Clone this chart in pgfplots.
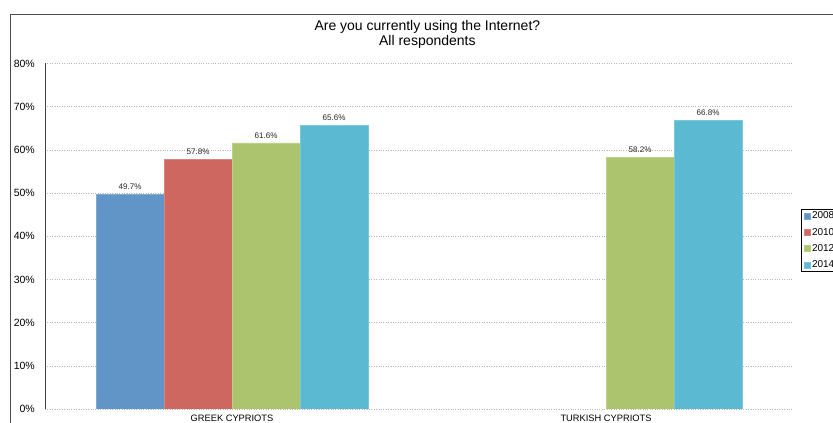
\documentclass[border=0pt]{standalone}
\usepackage{fontspec}
\setmainfont{Liberation Sans}
\usepackage{pgfplots}
\pgfplotsset{compat=1.18}
\definecolor{c08}{HTML}{6195C8}
\definecolor{c10}{HTML}{CD6760}
\definecolor{c12}{HTML}{ABC46D}
\definecolor{c14}{HTML}{5BB9D2}
\begin{document}
\begin{tikzpicture}[x=1pt,y=1pt]
\useasboundingbox (0,0) rectangle (833,423);
\clip (0,0) rectangle (833,423);
\draw[draw=gray!60!black, line width=0.9pt] (10,-20) rectangle (900,409);
\begin{axis}[
  at={(45pt,14pt)}, anchor=south west,
  scale only axis, width=748pt, height=345.5pt,
  ybar=0pt, bar width=68pt,
  xmin=-0.5, xmax=1.5, ymin=0, ymax=80,
  xtick={0,1}, xticklabels={GREEK CYPRIOTS,TURKISH CYPRIOTS},
  ytick={0,10,...,80},
  yticklabel={\pgfmathprintnumber{\tick}\%},
  /pgf/number format/assume math mode=true,
  major tick length=0pt,
  axis x line*=bottom, axis y line*=left,
  x axis line style={draw=none},
  y axis line style={draw=gray!50!black, line width=1pt},
  ymajorgrids, grid style={dotted, gray!55, line width=0.5pt},
  xticklabel style={font=\fontsize{9.3}{10}\selectfont, anchor=north, inner sep=0pt, yshift=-6.3pt},
  yticklabel style={font=\fontsize{10.5}{12}\selectfont, anchor=east, inner sep=0pt, xshift=-10pt},
  nodes near coords={\pgfmathprintnumber[fixed,precision=1,fixed zerofill]{\pgfplotspointmeta}\%},
  every node near coord/.append style={font=\fontsize{8.1}{9}\selectfont, inner sep=0pt, anchor=south, yshift=4.5pt, color=black!85},
  title={Are you currently using the Internet?\\All respondents},
  title style={at={(0.5112,1.1077)}, anchor=north, inner sep=0pt, align=center, font=\fontsize{14}{14.5}\selectfont},
  legend style={at={(1.0103,0.579)}, anchor=north west, draw=black, line width=0.8pt,
    font=\fontsize{10}{11}\selectfont, inner sep=1.5pt, row sep=5.8pt, nodes={inner sep=1pt}, cells={anchor=west}},
  legend image code/.code={\path (0pt,0pt) (8pt,0pt); \fill[#1] (1.5pt,-3pt) rectangle (7.5pt,3pt);},
]
\addplot[fill=c08, draw=c08!80!white, line width=0.4pt] coordinates {(0,49.7)};
\addplot[fill=c10, draw=c10!80!white, line width=0.4pt] coordinates {(0,57.8)};
\addplot[fill=c12, draw=c12!80!white, line width=0.4pt] coordinates {(0,61.6) (1,58.2)};
\addplot[fill=c14, draw=c14!80!white, line width=0.4pt] coordinates {(0,65.6) (1,66.8)};
\legend{2008,2010,2012,2014}
\end{axis}
\end{tikzpicture}
\end{document}
